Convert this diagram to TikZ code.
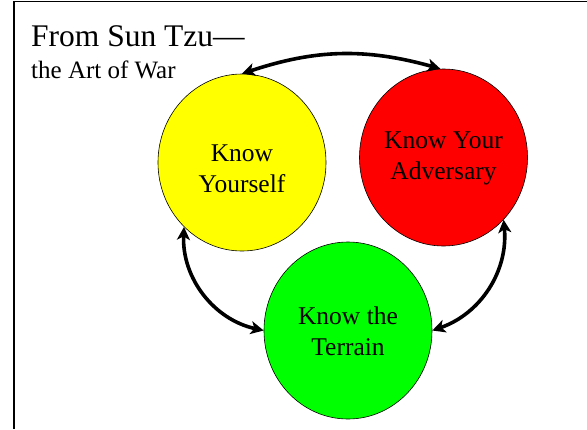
\documentclass[tikz,border=0pt]{standalone}
\usepackage{fontspec}
\setmainfont{Liberation Serif}
\usetikzlibrary{arrows.meta,shapes.geometric}
\definecolor{selfyellow}{RGB}{255,255,0}
\definecolor{foered}{RGB}{255,0,0}
\definecolor{terraingreen}{RGB}{0,255,0}
\tikzset{
  lbl/.style={align=center, inner sep=0pt, font=\fontsize{25.5}{31}\selectfont}
}

\begin{document}
\begin{tikzpicture}[x=1pt,y=1pt,
    main/.style = {draw, ellipse, line width=0.6pt, minimum width=168pt, minimum height=177pt, inner sep=0pt},
    link/.style = {line width=3.6pt, {Stealth[length=13pt,width=13pt,inset=3.5pt]}-{Stealth[length=13pt,width=13pt,inset=3.5pt]}}]
        \useasboundingbox (0,0) rectangle (587,-429);
        \draw[line width=1.6pt] (587,-1.5) -- (13.8,-1.5) -- (13.8,-429);

        \node[anchor=base west, inner sep=0pt, font=\fontsize{31.5}{36}\selectfont] (title) at (31,-46) {From Sun Tzu---};
        \node[anchor=base west, inner sep=0pt, font=\fontsize{25}{28}\selectfont] (sub) at (31,-78) {the Art of War};

        \node[main, fill=selfyellow, label={[lbl, yshift=-6pt]center:Know\\Yourself}] (self) at (242,-162.5) {};
        \node[main, fill=foered, label={[lbl, yshift=-1pt]center:Know Your\\Adversary}] (foe) at (443.5,-157.5) {};
        \node[main, fill=terraingreen, label={[lbl, yshift=-1pt]center:Know the\\Terrain}] (terrain) at (348,-330.5) {};

        \path
        (self.90) edge[link, bend left=17] (foe.92)
        (self.228) edge[link, bend right=40] (terrain.180)
        (foe.314) edge[link, bend left=38] (terrain.0)
        ;
\end{tikzpicture}
\end{document}
